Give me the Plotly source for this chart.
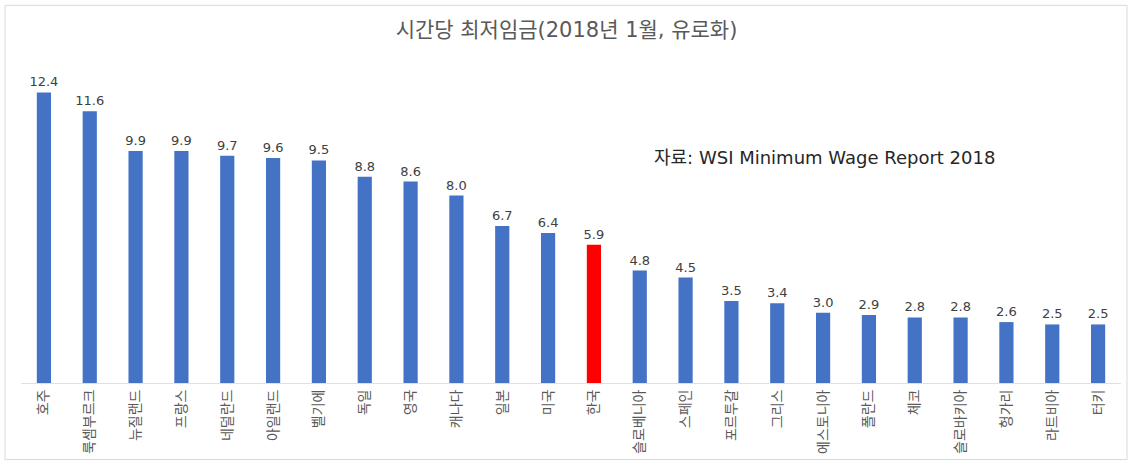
import plotly.graph_objects as go

# Hourly minimum wage, January 2018, in euros
countries = ["호주", "룩셈부르크", "뉴질랜드", "프랑스", "네덜란드", "아일랜드", "벨기에", "독일",
             "영국", "캐나다", "일본", "미국", "한국", "슬로베니아", "스페인", "포르투갈",
             "그리스", "에스토니아", "폴란드", "체코", "슬로바키아", "헝가리", "라트비아", "터키"]
wages = [12.4, 11.6, 9.9, 9.9, 9.7, 9.6, 9.5, 8.8, 8.6, 8.0, 6.7, 6.4, 5.9,
         4.8, 4.5, 3.5, 3.4, 3.0, 2.9, 2.8, 2.8, 2.6, 2.5, 2.5]
highlight = "한국"

KR = "Noto Sans CJK KR, Malgun Gothic, sans-serif"
MIXED = "DejaVu Sans, Noto Sans CJK KR, sans-serif"
colors = ["#FF0000" if c == highlight else "#4472C4" for c in countries]

fig = go.Figure(go.Bar(
    x=countries,
    y=wages,
    marker=dict(color=colors, line=dict(width=0)),
    width=0.31,
    text=[f"{v:.1f}" for v in wages],
    textposition="outside",
    constraintext="none",
    cliponaxis=False,
    textfont=dict(family=MIXED, size=13, color="#404040"),
))

fig.update_layout(
    width=1133, height=466,
    margin=dict(l=21, r=12, t=55, b=81),
    paper_bgcolor="white", plot_bgcolor="white",
    showlegend=False,
    bargap=0.69,
    title=dict(text="시간당 최저임금(2018년 1월, 유로화)", x=0.5, xanchor="center",
               y=1 - 30 / 466, yanchor="middle",
               font=dict(family=MIXED, size=21, color="#595959")),
    xaxis=dict(range=[-0.5, len(countries) - 0.5], tickangle=-90,
               tickfont=dict(family=KR, size=14, color="#595959"),
               showline=True, linecolor="#E0E0E0", linewidth=1,
               showgrid=False, ticks="", fixedrange=True),
    yaxis=dict(range=[0, 14], visible=False, showgrid=False, fixedrange=True),
    annotations=[dict(text="자료: WSI Minimum Wage Report 2018", xref="paper", yref="paper",
                      x=(652 - 21) / (1133 - 33), xanchor="left",
                      y=(466 - 81 - 158) / (466 - 136), yanchor="middle",
                      showarrow=False,
                      font=dict(family=MIXED, size=18, color="#262626"))],
    shapes=[dict(type="rect", xref="paper", yref="paper",
                 x0=-16 / 1100, x1=1 + 6 / 1100, y0=-77 / 330, y1=1 + 50 / 330,
                 line=dict(color="#D9D9D9", width=1))],
)

fig.write_html("out.html")
